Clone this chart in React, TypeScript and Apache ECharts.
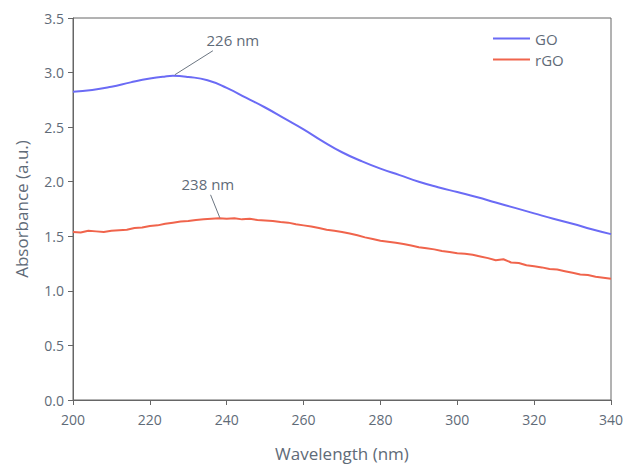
import React, { useEffect, useRef } from "react";
import * as echarts from "echarts";

const goWavelengths = [200, 205, 210, 215, 220, 224, 226, 230, 235, 240, 245, 250, 255, 260, 265, 270, 275, 280, 285, 290, 295, 300, 305, 310, 315, 320, 325, 330, 335, 340];
const goValues = [2.825, 2.84, 2.87, 2.91, 2.945, 2.965, 2.97, 2.96, 2.93, 2.86, 2.77, 2.68, 2.58, 2.48, 2.37, 2.27, 2.19, 2.12, 2.06, 2.0, 1.95, 1.905, 1.86, 1.81, 1.76, 1.71, 1.66, 1.615, 1.565, 1.52];

const rgoWavelengths = [200, 202, 204, 206, 208, 210, 212, 214, 216, 218, 220, 222, 224, 226, 228, 230, 232, 234, 236, 238, 240, 242, 244, 246, 248, 250, 252, 254, 256, 258, 260, 262, 264, 266, 268, 270, 272, 274, 276, 278, 280, 282, 284, 286, 288, 290, 292, 294, 296, 298, 300, 302, 304, 306, 308, 310, 312, 314, 316, 318, 320, 322, 324, 326, 328, 330, 332, 334, 336, 338, 340];
const rgoValues = [1.54, 1.535, 1.55, 1.545, 1.54, 1.55, 1.555, 1.56, 1.575, 1.58, 1.595, 1.6, 1.615, 1.625, 1.635, 1.64, 1.65, 1.655, 1.66, 1.665, 1.66, 1.665, 1.655, 1.66, 1.65, 1.645, 1.64, 1.63, 1.625, 1.61, 1.6, 1.59, 1.575, 1.56, 1.55, 1.54, 1.525, 1.51, 1.49, 1.475, 1.46, 1.45, 1.44, 1.43, 1.415, 1.4, 1.39, 1.38, 1.365, 1.355, 1.345, 1.34, 1.33, 1.315, 1.3, 1.28, 1.29, 1.26, 1.255, 1.235, 1.225, 1.215, 1.2, 1.195, 1.18, 1.165, 1.15, 1.145, 1.13, 1.12, 1.11];

const seriesNames = ["GO", "rGO"];
const xTicks = [200, 220, 240, 260, 280, 300, 320, 340];

const textColor = "#5f6b78";
const axisColor = "#666";
const fontFamily = "'Open Sans', 'Noto Sans', sans-serif";

export default function App() {
  const ref = useRef<HTMLDivElement>(null);
  useEffect(() => {
    if (!ref.current) return;
    const chart = echarts.init(ref.current, undefined, { renderer: "svg" });
    const leaderStyle = { color: "#6c7682", width: 1, type: "solid" as const };
    chart.setOption({
      animation: false,
      backgroundColor: "#fff",
      textStyle: { fontFamily },
      grid: { left: 73, right: 23, top: 18, bottom: 67, show: true, borderColor: axisColor, borderWidth: 1 },
      legend: {
        orient: "vertical",
        left: 488,
        top: 26,
        icon: "rect",
        itemWidth: 37,
        itemHeight: 2,
        itemGap: 6,
        textStyle: { color: textColor, fontSize: 15, fontFamily },
        data: seriesNames,
      },
      xAxis: {
        type: "value",
        min: xTicks[0],
        max: xTicks[xTicks.length - 1],
        interval: 20,
        name: "Wavelength (nm)",
        nameLocation: "middle",
        nameGap: 45,
        nameTextStyle: { color: textColor, fontSize: 17, fontFamily },
        axisLine: { show: true, lineStyle: { color: axisColor } },
        axisTick: { show: true, length: 5, lineStyle: { color: axisColor } },
        axisLabel: { color: textColor, fontSize: 14, margin: 12, fontFamily },
        splitLine: { show: false },
      },
      yAxis: {
        type: "value",
        min: 0,
        max: 3.5,
        interval: 0.5,
        name: "Absorbance (a.u.)",
        nameLocation: "middle",
        nameGap: 43,
        nameTextStyle: { color: textColor, fontSize: 17, fontFamily },
        axisLine: { show: true, lineStyle: { color: axisColor } },
        axisTick: { show: true, length: 5, lineStyle: { color: axisColor } },
        axisLabel: { color: textColor, fontSize: 14, margin: 9, fontFamily, formatter: (v: number) => v.toFixed(1) },
        splitLine: { show: false },
      },
      series: [
        {
          name: seriesNames[0],
          type: "line",
          symbol: "none",
          smooth: true,
          lineStyle: { color: "#6b6bf5", width: 2 },
          itemStyle: { color: "#6b6bf5" },
          data: goWavelengths.map((w, i) => [w, goValues[i]]),
          markLine: {
            silent: true,
            symbol: ["none", "none"],
            label: { show: false },
            lineStyle: leaderStyle,
            data: [[{ coord: [226.5, 2.98] }, { coord: [236.4, 3.2] }]],
          },
          markPoint: {
            symbol: "circle",
            symbolSize: 0,
            label: { show: true, position: "inside", formatter: "226 nm", color: textColor, fontSize: 15, fontFamily },
            data: [{ coord: [241.6, 3.3] }],
          },
        },
        {
          name: seriesNames[1],
          type: "line",
          symbol: "none",
          lineStyle: { color: "#f0644c", width: 2 },
          itemStyle: { color: "#f0644c" },
          data: rgoWavelengths.map((w, i) => [w, rgoValues[i]]),
          markLine: {
            silent: true,
            symbol: ["none", "none"],
            label: { show: false },
            lineStyle: leaderStyle,
            data: [[{ coord: [238.2, 1.67] }, { coord: [235.8, 1.88] }]],
          },
          markPoint: {
            symbol: "circle",
            symbolSize: 0,
            label: { show: true, position: "inside", formatter: "238 nm", color: textColor, fontSize: 15, fontFamily },
            data: [{ coord: [235.1, 1.98] }],
          },
        },
      ],
    });
    return () => chart.dispose();
  }, []);
  return <div ref={ref} style={{ position: "absolute", left: 0, top: 0, width: 634, height: 467 }} />;
}
